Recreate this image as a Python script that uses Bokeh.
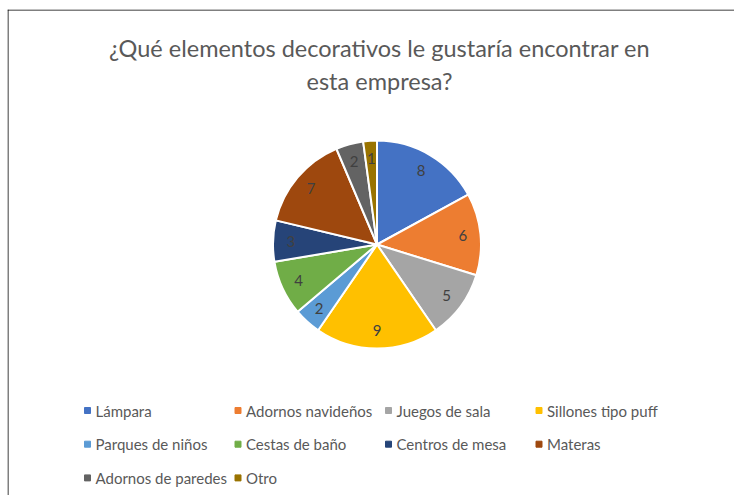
import numpy as np
from bokeh.plotting import figure
from bokeh.models import Range1d, ColumnDataSource, Span
from bokeh.core.properties import value
from bokeh.embed import file_html
from bokeh.resources import INLINE

categories = ["Lámpara", "Adornos navideños", "Juegos de sala", "Sillones tipo puff",
              "Parques de niños", "Cestas de baño", "Centros de mesa", "Materas",
              "Adornos de paredes", "Otro"]
counts = [8, 6, 5, 9, 2, 4, 3, 7, 2, 1]
colors = ["#4472C4", "#ED7D31", "#A5A5A5", "#FFC000", "#5B9BD5",
          "#70AD47", "#264478", "#9E480E", "#636363", "#997300"]
title_lines = ["¿Qué elementos decorativos le gustaría encontrar en", "esta empresa?"]

W, H = 734, 495
FONT = "Lato"
L, T = 7, 9

p = figure(width=W, height=H, output_backend="svg", toolbar_location=None,
           x_range=Range1d(L, W), y_range=Range1d(0, H - T),
           min_border_left=L, min_border_top=T, min_border_right=0, min_border_bottom=0)
p.axis.visible = False
p.grid.visible = False
p.outline_line_color = None
p.background_fill_color = "white"
p.border_fill_color = "white"

# chart-area border (only left and top edges are visible in the reference crop)
p.add_layout(Span(location=L + 0.5, dimension="height", line_color="#000000", line_width=1))
p.add_layout(Span(location=H - T - 0.5, dimension="width", line_color="#000000", line_width=1))

def px(x):
    return x

def py(y):
    return H - y

# pie
cx, cy, r = px(376.5), py(244), 104
vals = np.array(counts, dtype=float)
frac = vals / vals.sum()
cum = np.concatenate([[0], np.cumsum(frac)])
start = np.pi / 2 - cum[:-1] * 2 * np.pi
end = np.pi / 2 - cum[1:] * 2 * np.pi
mid = (start + end) / 2
src = ColumnDataSource(dict(start=start, end=end, color=colors, cat=categories,
                            lx=cx + 0.83 * r * np.cos(mid), ly=cy + 0.83 * r * np.sin(mid),
                            lab=[str(c) for c in counts]))
p.wedge(x=cx, y=cy, radius=r, start_angle="start", end_angle="end", direction="clock",
        fill_color="color", line_color="white", line_width=2, source=src)
p.text(x="lx", y="ly", text="lab", source=src, text_align="center", text_baseline="middle",
       text_font=value(FONT), text_font_size="15px", text_color="#404040")

# title
p.text(x=[px(379), px(379)], y=[py(47), py(80)], text=title_lines, text_align="center",
       text_baseline="middle", text_font=value(FONT), text_font_size="23.5px",
       text_color="#595959")

# legend
ncol = 4
col_x = [px(87 + 150.5 * (i % ncol)) for i in range(len(categories))]
row_y = [py(410 + 33.7 * (i // ncol)) for i in range(len(categories))]
lsrc = ColumnDataSource(dict(x=col_x, y=row_y, tx=[x + 8 for x in col_x], cat=categories, color=colors))
p.scatter(x="x", y="y", marker="square", size=6, fill_color="color", line_color="color", source=lsrc)
p.text(x="tx", y="y", text="cat", source=lsrc, text_align="left", text_baseline="middle",
       text_font=value(FONT), text_font_size="15px", text_color="#595959")

open("out.html", "w").write(file_html(p, INLINE))
